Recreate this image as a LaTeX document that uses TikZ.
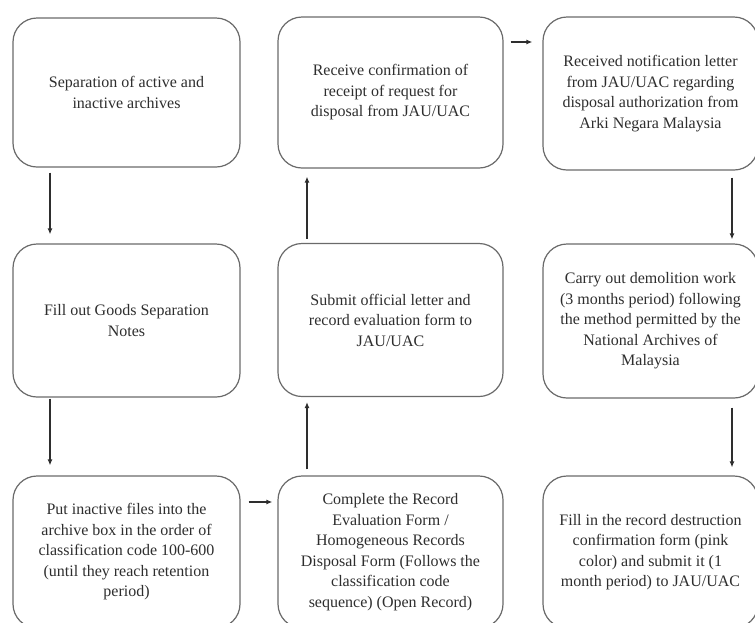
\documentclass[tikz,border=0pt]{standalone}
\usepackage{fontspec}
\setmainfont{Liberation Serif}
\usetikzlibrary{arrows.meta}
\definecolor{boxline}{HTML}{6A6A6A}
\definecolor{inkgray}{HTML}{2E2E2E}
\begin{document}
\begin{tikzpicture}[x=1pt, y=-1pt, >={Latex[length=6pt,width=5pt]}, line width=1.4pt,
  proc node/.style={draw=boxline, line width=1.2pt, rounded corners=24pt, align=center, inner sep=0pt,
    text=inkgray, font=\fontsize{16}{20.5}\selectfont},
  col a/.style={minimum width=227pt},
  col b/.style={minimum width=225pt},
  col c/.style={minimum width=215pt}]
\useasboundingbox (0,0) rectangle (755,622);
\clip (0,0) rectangle (755,622);
\fill [white] (0,0) rectangle (755,622);

% first column
\node [proc node, col a, minimum height=149pt](s1) at (126.5,92.5) {Separation of active and\\inactive archives};
\node [proc node, col a, minimum height=153pt](s2) at (126.5,320.5) {Fill out Goods Separation\\Notes};
\node [proc node, col a, minimum height=152pt](s3) at (126.5,552) {Put inactive files into the\\archive box in the order of\\classification code 100-600\\(until they reach retention\\period)};

% second column
\node [proc node, col b, minimum height=152pt](s4) at (390.5,552) {Complete the Record\\Evaluation Form /\\Homogeneous Records\\Disposal Form (Follows the\\classification code\\sequence) (Open Record)};
\node [proc node, col b, minimum height=153pt](s5) at (390.5,320) {Submit official letter and\\record evaluation form to\\JAU/UAC};
\node [proc node, col b, minimum height=151pt](s6) at (390.5,92.5) {Receive confirmation of\\receipt of request for\\disposal from JAU/UAC};

% third column
\node [proc node, col c, minimum height=153pt](s7) at (650.5,93.5) {Received notification letter\\from JAU/UAC regarding\\disposal authorization from\\Arki Negara Malaysia};
\node [proc node, col c, minimum height=154pt](s8) at (650.5,321) {Carry out demolition work\\(3 months period) following\\the method permitted by the\\National Archives of\\Malaysia};
\node [proc node, col c, minimum height=152pt](s9) at (650.5,552) {Fill in the record destruction\\confirmation form (pink\\color) and submit it (1\\month period) to JAU/UAC};

\begin{scope}[draw=inkgray]
\draw [->, shorten <=5pt, shorten >=9pt] ([xshift=-76.5pt]s1.south) -- ([xshift=-76.5pt]s2.north);
\draw [->, shorten <=1pt, shorten >=10pt] ([xshift=-76.5pt]s2.south) -- ([xshift=-76.5pt]s3.north);
\draw [->, shorten <=8pt, shorten >=5pt] ([yshift=50pt]s3.east) -- ([yshift=50pt]s4.west);
\draw [->, shorten <=6pt, shorten >=5pt] ([xshift=-83.5pt]s4.north) -- ([xshift=-83.5pt]s5.south);
\draw [->, shorten <=4pt, shorten >=8pt] ([xshift=-83.5pt]s5.north) -- ([xshift=-83.5pt]s6.south);
\draw [->, shorten <=7pt, shorten >=10pt] ([yshift=50.5pt]s6.east) -- ([yshift=51.5pt]s7.west);
\draw [->, shorten <=7pt, shorten >=4pt] ([xshift=81.5pt]s7.south) -- ([xshift=81.5pt]s8.north);
\draw [->, shorten <=9pt, shorten >=8pt] ([xshift=81.5pt]s8.south) -- ([xshift=81.5pt]s9.north);
\end{scope}
\end{tikzpicture}
\end{document}
